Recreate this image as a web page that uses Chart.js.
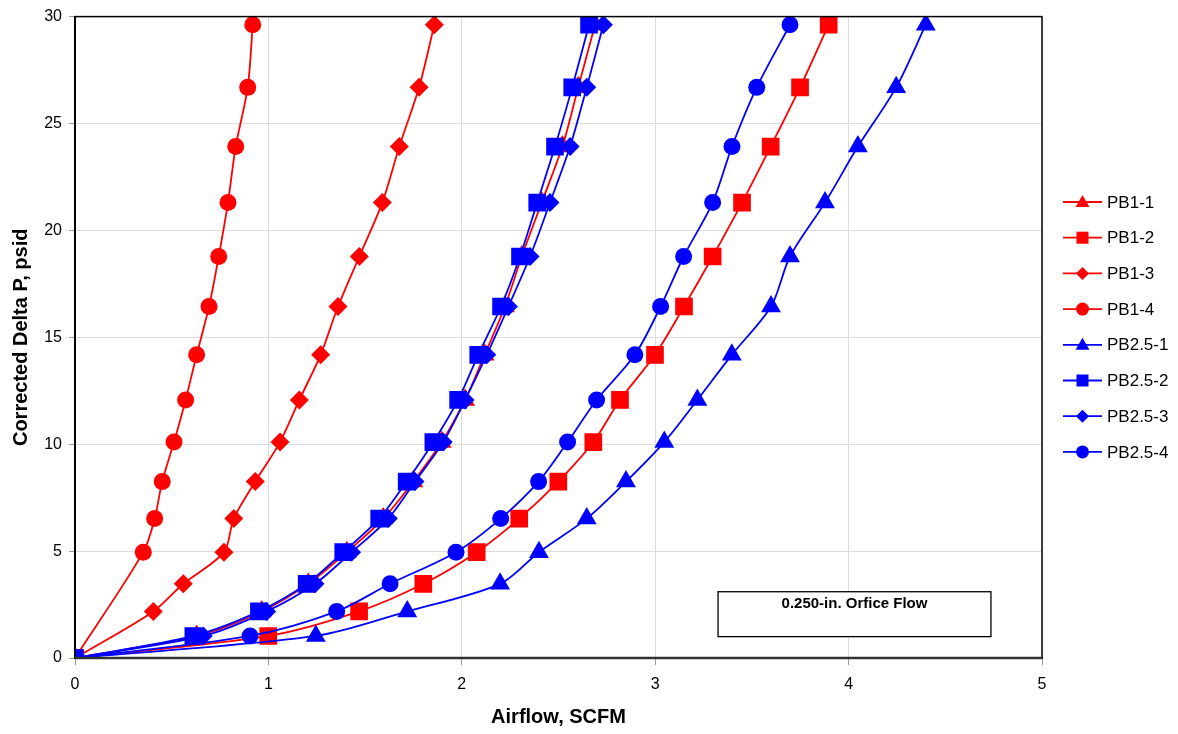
<!DOCTYPE html>
<html>
<head>
<meta charset="utf-8">
<script src="https://cdn.jsdelivr.net/npm/chart.js@4/dist/chart.umd.min.js"></script>
<style>
  html, body { margin: 0; padding: 0; background: #fff; }
  #wrap { width: 1178px; height: 734px; }
</style>
</head>
<body>
<div id="wrap"><canvas id="myChart" width="1178" height="734"></canvas></div>
<script>
// corrected delta P levels (psid)
var dpFull = [0, 1.03, 2.18, 3.47, 4.95, 6.52, 8.25, 10.1, 12.07, 14.18, 16.44, 18.78, 21.3, 23.92, 26.69, 29.62];
var dpPB13 = [0, 2.18, 3.47, 4.95, 6.52, 8.25, 10.1, 12.07, 14.18, 16.44, 18.78, 21.3, 23.92, 26.69, 29.62];
var dpPB14 = [0, 4.95, 6.52, 8.25, 10.1, 12.07, 14.18, 16.44, 18.78, 21.3, 23.92, 26.69, 29.62];

// airflow (SCFM)
var flowPB11 = [0, 0.629, 0.965, 1.206, 1.405, 1.594, 1.749, 1.896, 2.017, 2.118, 2.223, 2.310, 2.413, 2.520, 2.602, 2.689];
var flowPB12 = [0, 0.999, 1.469, 1.801, 2.077, 2.297, 2.499, 2.680, 2.818, 2.999, 3.149, 3.297, 3.449, 3.597, 3.749, 3.897];
var flowPB13 = [0, 0.405, 0.560, 0.770, 0.821, 0.932, 1.060, 1.160, 1.270, 1.360, 1.470, 1.589, 1.677, 1.779, 1.858];
var flowPB14 = [0, 0.353, 0.412, 0.451, 0.512, 0.572, 0.629, 0.693, 0.743, 0.791, 0.831, 0.893, 0.919];
var flowPB251 = [0, 1.245, 1.718, 2.198, 2.399, 2.646, 2.849, 3.047, 3.218, 3.396, 3.599, 3.697, 3.878, 4.048, 4.246, 4.399];
var flowPB252 = [0, 0.612, 0.951, 1.198, 1.387, 1.573, 1.715, 1.853, 1.981, 2.085, 2.203, 2.301, 2.390, 2.482, 2.571, 2.658];
var flowPB253 = [0, 0.663, 0.991, 1.241, 1.430, 1.620, 1.758, 1.904, 2.017, 2.129, 2.241, 2.353, 2.456, 2.560, 2.646, 2.732];
var flowPB254 = [0, 0.905, 1.353, 1.629, 1.970, 2.201, 2.397, 2.547, 2.697, 2.895, 3.028, 3.147, 3.297, 3.397, 3.525, 3.697];

var seriesNames = ["PB1-1", "PB1-2", "PB1-3", "PB1-4", "PB2.5-1", "PB2.5-2", "PB2.5-3", "PB2.5-4"];
var seriesFlow = [flowPB11, flowPB12, flowPB13, flowPB14, flowPB251, flowPB252, flowPB253, flowPB254];
var seriesDp = [dpFull, dpFull, dpPB13, dpPB14, dpFull, dpFull, dpFull, dpFull];

var xTicks = [0, 1, 2, 3, 4, 5];
var yTicks = [0, 5, 10, 15, 20, 25, 30];
var noteText = "0.250-in. Orfice Flow";

var RED = "#ff0000";
var BLUE = "#0000ff";
var FONT = "'Liberation Sans', Arial, Helvetica, sans-serif";

var styles = [
    { color: RED, shape: "triangle", r: 11.5 },
    { color: RED, shape: "rect", r: 12.5 },
    { color: RED, shape: "rectRot", r: 9.5 },
    { color: RED, shape: "circle", r: 8.5 },
    { color: BLUE, shape: "triangle", r: 11.5 },
    { color: BLUE, shape: "rect", r: 12.5 },
    { color: BLUE, shape: "rectRot", r: 9.5 },
    { color: BLUE, shape: "circle", r: 8.5 }
];

var datasets = [];
for (var i = 0; i < seriesNames.length; i++) {
    var pts = [];
    for (var j = 0; j < seriesFlow[i].length; j++) {
        pts.push({ x: seriesFlow[i][j], y: seriesDp[i][j] });
    }
    datasets.push({
        label: seriesNames[i],
        data: pts,
        borderColor: styles[i].color,
        backgroundColor: styles[i].color,
        borderWidth: 1.8,
        pointStyle: styles[i].shape,
        pointRadius: styles[i].r,
        pointBorderWidth: 0,
        tension: 0.3,
        order: seriesNames.length - i   // later series drawn on top, like excel
    });
}

function drawMarker(ctx, shape, x, y, r) {
    ctx.beginPath();
    if (shape === "circle") {
        ctx.arc(x, y, r, 0, Math.PI * 2);
    } else if (shape === "rect") {
        var s = r * Math.SQRT1_2;
        ctx.rect(x - s, y - s, 2 * s, 2 * s);
    } else if (shape === "rectRot") {
        ctx.moveTo(x - r, y); ctx.lineTo(x, y - r); ctx.lineTo(x + r, y); ctx.lineTo(x, y + r);
        ctx.closePath();
    } else if (shape === "triangle") {
        ctx.moveTo(x, y - r);
        ctx.lineTo(x + r * 0.866, y + r * 0.5);
        ctx.lineTo(x - r * 0.866, y + r * 0.5);
        ctx.closePath();
    }
    ctx.fill();
}

// frame, note box and legend
var extras = {
    id: "extras",
    afterDraw: function (chart) {
        var ctx = chart.ctx;
        var a = chart.chartArea;
        var xs = chart.scales.x, ys = chart.scales.y;
        ctx.save();

        // plot frame
        ctx.strokeStyle = "#000";
        ctx.lineWidth = 1.5;
        ctx.strokeRect(a.left, a.top, a.right - a.left, a.bottom - a.top);
        ctx.strokeStyle = "#333";
        ctx.lineWidth = 2.5;
        ctx.beginPath();
        ctx.moveTo(a.left, a.bottom); ctx.lineTo(a.right, a.bottom);
        ctx.stroke();

        // note box
        var bx1 = xs.getPixelForValue(3.325), bx2 = xs.getPixelForValue(4.736);
        var by1 = ys.getPixelForValue(3.1), by2 = ys.getPixelForValue(1.0);
        ctx.fillStyle = "#fff";
        ctx.fillRect(bx1, by1, bx2 - bx1, by2 - by1);
        ctx.strokeStyle = "#000";
        ctx.lineWidth = 1.3;
        ctx.strokeRect(bx1, by1, bx2 - bx1, by2 - by1);
        ctx.fillStyle = "#000";
        ctx.font = "bold 15px " + FONT;
        ctx.textAlign = "center";
        ctx.textBaseline = "middle";
        ctx.fillText(noteText, (bx1 + bx2) / 2, by1 + 12);

        // legend
        var lx = a.right + 21, ly = 202, step = 35.7;
        ctx.font = "17px " + FONT;
        ctx.textAlign = "left";
        for (var k = 0; k < seriesNames.length; k++) {
            var yy = ly + k * step;
            ctx.strokeStyle = styles[k].color;
            ctx.fillStyle = styles[k].color;
            ctx.lineWidth = 1.8;
            ctx.beginPath();
            ctx.moveTo(lx, yy); ctx.lineTo(lx + 39, yy);
            ctx.stroke();
            var mr = styles[k].shape === "rect" ? 8.5 : (styles[k].shape === "triangle" ? 8 : 6.5);
            drawMarker(ctx, styles[k].shape, lx + 19.5, yy + (styles[k].shape === "triangle" ? 1 : 0), mr);
            ctx.fillStyle = "#000";
            ctx.fillText(seriesNames[k], lx + 44, yy + 1);
        }
        ctx.restore();
    }
};

var config = {
    type: "line",
    data: { datasets: datasets },
    options: {
        responsive: false,
        animation: false,
        events: [],
        devicePixelRatio: 1,
        layout: { padding: { top: 16, right: 136, left: 0, bottom: 0 } },
        plugins: {
            legend: { display: false },
            tooltip: { enabled: false }
        },
        scales: {
            x: {
                type: "linear",
                min: 0,
                max: 5,
                afterBuildTicks: function (scale) {
                    scale.ticks = xTicks.map(function (v) { return { value: v }; });
                },
                afterFit: function (scale) { scale.height = 76; },
                ticks: { color: "#000", font: { family: FONT, size: 16 }, padding: 10, maxRotation: 0 },
                grid: { color: "#dcdcdc", lineWidth: 1, tickLength: 7, tickColor: "#999" },
                border: { color: "#333", width: 2 },
                title: {
                    display: true,
                    text: "Airflow, SCFM",
                    color: "#000",
                    font: { family: FONT, size: 20, weight: "bold" },
                    padding: { top: 0, bottom: 5 }
                }
            },
            y: {
                type: "linear",
                min: 0,
                max: 30,
                afterBuildTicks: function (scale) {
                    scale.ticks = yTicks.map(function (v) { return { value: v }; });
                },
                afterFit: function (scale) { scale.width = 75; },
                ticks: { color: "#000", font: { family: FONT, size: 16 }, padding: 7 },
                grid: { color: "#dcdcdc", lineWidth: 1, tickLength: 6, tickColor: "#999" },
                border: { color: "#000", width: 2 },
                title: {
                    display: true,
                    text: "Corrected Delta P, psid",
                    color: "#000",
                    font: { family: FONT, size: 20, weight: "bold" },
                    padding: { top: 9, bottom: 0 }
                }
            }
        }
    },
    plugins: [extras]
};

var myChart = new Chart(document.getElementById("myChart"), config);
</script>
</body>
</html>
